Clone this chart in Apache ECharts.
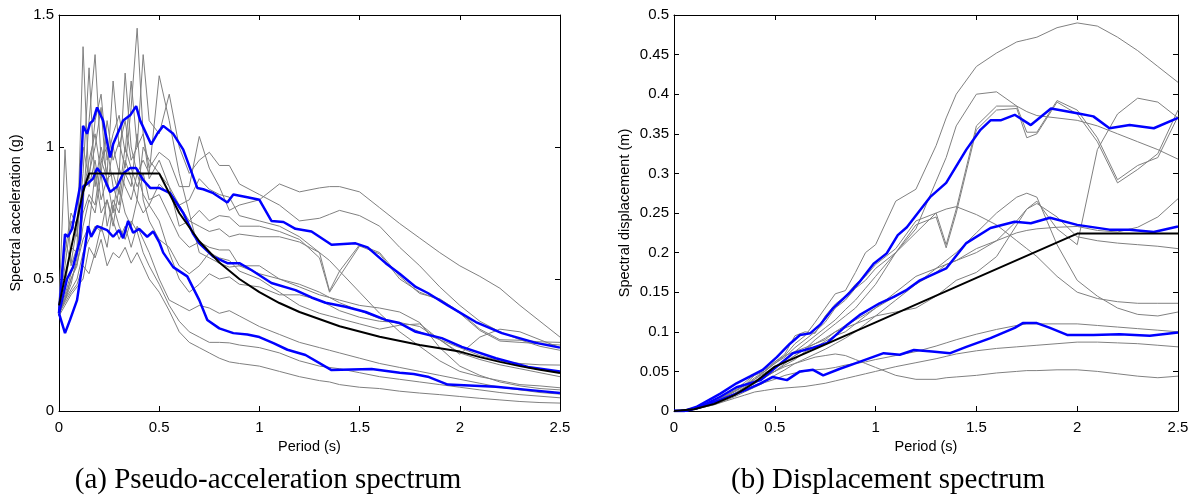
<!DOCTYPE html>
<html>
<head>
<meta charset="utf-8">
<script src="https://cdn.jsdelivr.net/npm/echarts@6/dist/echarts.min.js"></script>
<style>
html, body { margin: 0; padding: 0; background: #fff; }
#chart { width: 1198px; height: 499px; }
</style>
</head>
<body>
<div id="chart"></div>
<script>
// ---- (a) pseudo-acceleration: periods shared by the gray records
var tA = [0, .03, .06, .09, .12, .15, .18, .21, .24, .27, .30, .33, .36, .39, .42, .45, .5, .55, .6, .65, .7, .75, .8, .85, .9,
	1.0, 1.1, 1.2, 1.3, 1.35, 1.4, 1.5, 1.6, 1.7, 1.8, 1.9, 2.0, 2.1, 2.2, 2.3, 2.4, 2.5];
var saA1 = [.38, .48, .62, .60, .82, .95, 1.05, .90, 1.10, .95, 1.02, .92, 1.15, 1.45, 1.05, .92, .98, .95, .85, .85, 1.04, .92, .85, .76, .78,
	.80, .86, .83, .845, .85, .85, .83, .77, .71, .655, .60, .55, .51, .465, .40, .34, .28];
var saA2 = [.40, .99, .55, .62, 1.38, .85, .95, .80, .88, .75, .92, .85, .80, .90, .82, .78, .86, .82, .78, .80, .88, .84, .82, .81, .74,
	.72, .70, .66, .60, .455, .53, .63, .60, .51, .445, .425, .375, .31, .27, .268, .262, .26];
var saA3 = [.37, .42, .48, .58, .78, 1.10, 1.35, .95, 1.00, .85, .78, .95, .88, .80, 1.00, .95, .90, .85, .70, .72, .76, .72, .74, .735, .70,
	.70, .68, .65, .58, .45, .51, .625, .595, .50, .45, .42, .37, .305, .265, .26, .255, .25];
var saA4 = [.39, .55, .72, .66, .90, 1.30, .85, 1.00, .90, 1.25, 1.00, 1.10, .95, 1.00, 1.35, 1.10, 1.05, 1.20, 1.00, .90, .95, .98, .93, .93, .86,
	.82, .78, .72, .73, .745, .76, .74, .70, .62, .55, .47, .40, .34, .30, .27, .245, .23];
var saA5 = [.36, .43, .50, .55, .70, .80, .75, .90, .70, .80, .75, .90, .85, 1.05, .80, .72, .65, .62, .55, .52, .55, .60, .58, .57, .53,
	.50, .45, .40, .37, .36, .35, .33, .31, .325, .33, .27, .215, .28, .31, .30, .27, .24];
var saA6 = [.38, .65, .56, .70, .85, .90, 1.00, 1.15, .85, 1.00, .90, 1.28, 1.00, .90, .95, .90, 1.27, 1.10, .90, .75, .60, .58, .56, .545, .55,
	.52, .50, .48, .45, .43, .41, .38, .35, .33, .30, .27, .24, .21, .19, .18, .175, .174];
var saA7 = [.37, .42, .50, .56, .65, .70, .90, .75, .80, .70, .85, .75, .70, .80, .75, .78, .72, .60, .50, .45, .48, .52, .50, .508, .48,
	.47, .44, .44, .42, .40, .38, .355, .34, .335, .32, .27, .22, .195, .175, .16, .145, .13];
var saA8 = [.39, .60, .75, .70, 1.00, .88, 1.10, 1.20, .95, 1.05, 1.12, .98, 1.25, 1.00, 1.05, .88, .95, .85, .78, .72, .70, .68, .69, .66, .67,
	.66, .66, .64, .60, .57, .53, .45, .37, .30, .245, .19, .15, .13, .115, .10, .095, .088];
var saA9 = [.36, .44, .52, .60, .75, .82, .78, .95, .88, .90, .82, 1.00, .92, .85, .90, .80, .82, .74, .66, .62, .64, .62, .61, .61, .55,
	.55, .50, .47, .44, .43, .42, .40, .39, .375, .335, .24, .17, .135, .11, .095, .085, .08];
var saA10 = [.38, .42, .46, .50, .60, .65, .70, .68, .80, .72, .65, .70, .62, .70, .65, .60, .50, .42, .40, .38, .40, .39, .37, .38, .36,
	.32, .29, .26, .24, .23, .22, .20, .18, .165, .15, .135, .12, .105, .09, .08, .07, .064];
var saA11 = [.37, .41, .45, .48, .55, .52, .60, .70, .62, .78, .70, .65, .72, .68, .60, .55, .48, .40, .34, .30, .28, .26, .26, .258, .25,
	.24, .22, .19, .17, .165, .16, .145, .13, .12, .11, .10, .09, .08, .07, .062, .056, .05];
var saA12 = [.36, .40, .44, .47, .50, .62, .58, .65, .55, .60, .58, .62, .56, .60, .55, .50, .45, .38, .30, .26, .24, .22, .20, .186, .18,
	.17, .15, .13, .115, .11, .10, .09, .085, .075, .068, .062, .055, .048, .042, .036, .032, .03];
var saGray = [saA1, saA2, saA3, saA4, saA5, saA6, saA7, saA8, saA9, saA10, saA11, saA12];

// blue statistics and design spectrum, [period, Sa]
var saUpper = [[0, .37], [.03, .67], [.045, .66], [.065, .69], [.105, .85], [.12, 1.08], [.14, 1.05], [.155, 1.09], [.17, 1.10], [.19, 1.15],
	[.22, 1.10], [.255, .96], [.27, 1.01], [.32, 1.10], [.355, 1.12], [.385, 1.155], [.405, 1.10], [.46, 1.01], [.49, 1.05], [.52, 1.08],
	[.57, 1.05], [.62, .99], [.69, .845], [.72, .84], [.77, .825], [.84, .79], [.87, .82], [.94, .81], [1.0, .80], [1.06, .72], [1.12, .716],
	[1.18, .69], [1.26, .68], [1.36, .63], [1.48, .635], [1.54, .62], [1.63, .56], [1.70, .52], [1.78, .47], [1.84, .447], [1.94, .40],
	[2.08, .337], [2.21, .295], [2.38, .258], [2.5, .24]];
var saMean = [[0, .37], [.04, .50], [.07, .545], [.105, .65], [.12, .85], [.14, .86], [.17, .88], [.19, .92], [.22, .89], [.255, .83],
	[.29, .85], [.32, .90], [.355, .92], [.385, .92], [.42, .875], [.455, .845], [.5, .845], [.555, .825], [.62, .75], [.67, .67], [.70, .635],
	[.77, .585], [.84, .56], [.9, .56], [.96, .534], [1.06, .485], [1.18, .458], [1.26, .43], [1.33, .41], [1.43, .395], [1.53, .375],
	[1.63, .345], [1.70, .333], [1.78, .30], [1.91, .276], [2.01, .243], [2.18, .20], [2.34, .167], [2.5, .15]];
var saLower = [[0, .37], [.03, .295], [.055, .345], [.09, .42], [.115, .545], [.145, .70], [.16, .66], [.19, .70], [.24, .685], [.27, .66],
	[.30, .685], [.32, .655], [.345, .72], [.37, .675], [.40, .69], [.44, .66], [.47, .68], [.50, .64], [.52, .60], [.57, .545], [.64, .51],
	[.70, .42], [.74, .345], [.80, .313], [.87, .295], [.94, .29], [1.0, .28], [1.07, .257], [1.14, .232], [1.23, .212], [1.36, .155],
	[1.56, .159], [1.70, .145], [1.77, .14], [1.84, .13], [1.94, .10], [2.18, .092], [2.34, .08], [2.5, .068]];
var saDesign = [[0, .4], [.12, .83], [.15, .9], [.5, .9], [.6, .75], [.7, .643], [.8, .5625], [.9, .5], [1.0, .45], [1.1, .409], [1.2, .375],
	[1.4, .321], [1.6, .281], [1.8, .25], [2.0, .225], [2.1, .204], [2.2, .186], [2.3, .170], [2.4, .156], [2.5, .144]];

// ---- (b) displacement
var tB = [0, .1, .2, .3, .35, .4, .45, .5, .55, .6, .65, .7, .75, .8, .85, .9, .95, 1.0, 1.1, 1.2, 1.3, 1.35, 1.4, 1.5, 1.6, 1.7, 1.75, 1.8,
	1.9, 2.0, 2.1, 2.2, 2.3, 2.4, 2.5];
var sdB1 = [0, .002, .01, .022, .03, .04, .05, .062, .07, .085, .095, .112, .13, .148, .152, .175, .20, .21, .265, .28, .335, .37, .40, .435,
	.452, .466, .469, .472, .484, .49, .486, .472, .455, .435, .415];
var sdB2 = [0, .002, .011, .025, .033, .045, .05, .06, .068, .08, .09, .1, .112, .13, .14, .155, .165, .18, .2, .235, .245, .206, .25, .355,
	.38, .382, .345, .35, .39, .375, .34, .288, .305, .325, .38];
var sdB3 = [0, .002, .012, .026, .036, .046, .052, .062, .072, .095, .1, .098, .12, .135, .145, .16, .17, .185, .205, .24, .25, .21, .255, .36,
	.385, .385, .352, .352, .392, .38, .345, .292, .31, .32, .372];
var sdB4 = [0, .002, .01, .02, .027, .035, .042, .05, .06, .07, .078, .09, .1, .11, .12, .13, .145, .16, .2, .23, .29, .32, .36, .40, .403,
	.385, .378, .373, .37, .367, .36, .35, .34, .33, .318];
var sdB5 = [0, .002, .012, .025, .032, .042, .05, .06, .07, .075, .08, .085, .09, .1, .105, .11, .115, .12, .125, .13, .145, .155, .165, .175,
	.195, .235, .255, .265, .23, .21, .33, .375, .395, .39, .37];
var sdB6 = [0, .002, .011, .024, .032, .04, .048, .055, .062, .07, .078, .085, .092, .1, .108, .115, .122, .13, .145, .16, .175, .185, .19,
	.205, .215, .225, .228, .23, .232, .233, .228, .226, .232, .245, .268];
var sdB7 = [0, .002, .01, .02, .028, .035, .045, .05, .058, .065, .075, .08, .088, .095, .1, .11, .12, .13, .15, .17, .18, .185, .19, .2,
	.215, .24, .255, .262, .245, .22, .215, .212, .21, .208, .205];
var sdB8 = [0, .002, .01, .022, .03, .038, .045, .055, .065, .075, .085, .095, .105, .115, .128, .14, .155, .17, .2, .225, .25, .255, .258,
	.248, .235, .215, .205, .195, .17, .15, .142, .138, .136, .136, .136];
var sdB9 = [0, .002, .01, .02, .026, .032, .038, .045, .052, .06, .066, .072, .078, .085, .092, .1, .11, .12, .14, .16, .18, .19, .2, .225,
	.25, .27, .275, .27, .21, .165, .145, .13, .122, .12, .125];
var sdB10 = [0, .002, .008, .018, .024, .03, .036, .04, .045, .048, .05, .052, .053, .055, .058, .06, .062, .065, .07, .075, .082, .086, .09,
	.097, .103, .108, .11, .11, .11, .11, .108, .106, .104, .102, .10];
var sdB11 = [0, .002, .008, .016, .02, .024, .026, .028, .029, .03, .031, .033, .035, .038, .041, .044, .047, .05, .056, .061, .066, .069,
	.072, .076, .079, .081, .082, .083, .085, .087, .087, .086, .085, .083, .081];
var sdB12 = [0, .002, .009, .02, .028, .035, .043, .05, .056, .06, .064, .068, .07, .072, .07, .065, .06, .055, .045, .04, .04, .042, .043,
	.045, .048, .05, .051, .051, .052, .052, .05, .047, .044, .042, .044];
var sdGray = [sdB1, sdB2, sdB3, sdB4, sdB5, sdB6, sdB7, sdB8, sdB9, sdB10, sdB11, sdB12];

var sdUpper = [[0, 0], [.05, 0], [.11, .005], [.23, .022], [.31, .035], [.38, .044], [.44, .052], [.51, .068], [.575, .085], [.625, .096],
	[.675, .098], [.725, .109], [.79, .13], [.87, .149], [.92, .163], [.99, .186], [1.055, .199], [1.11, .222], [1.155, .232], [1.27, .27],
	[1.35, .288], [1.45, .33], [1.52, .355], [1.57, .367], [1.62, .367], [1.69, .374], [1.77, .361], [1.87, .382], [2.0, .376], [2.08, .372],
	[2.16, .357], [2.26, .361], [2.38, .357], [2.5, .37]];
var sdMean = [[0, 0], [.05, 0], [.12, .004], [.23, .018], [.31, .03], [.43, .039], [.51, .056], [.59, .073], [.69, .08], [.76, .086],
	[.86, .109], [.92, .121], [1.02, .136], [1.09, .144], [1.155, .153], [1.22, .165], [1.35, .18], [1.45, .212], [1.57, .231], [1.69, .239],
	[1.77, .237], [1.865, .244], [2.0, .235], [2.16, .229], [2.26, .229], [2.38, .226], [2.5, .233]];
var sdLower = [[0, 0], [.05, 0], [.12, .004], [.23, .014], [.36, .027], [.43, .035], [.49, .043], [.56, .039], [.625, .05], [.69, .052],
	[.74, .045], [.82, .053], [.92, .062], [1.04, .073], [1.12, .071], [1.19, .077], [1.28, .075], [1.37, .073], [1.45, .081], [1.57, .092],
	[1.69, .105], [1.73, .111], [1.80, .111], [1.865, .105], [1.95, .096], [2.08, .096], [2.21, .097], [2.36, .095], [2.5, .099]];
var sdDesign = [[0, 0], [.1, .0022], [.2, .009], [.3, .02], [.4, .036], [.5, .056], [1.0, .112], [1.5, .168], [2.0, .224], [2.5, .224]];

var periodTicks = [0, 2.5, 0.5];   // min, max, step
var saTicks = [0, 1.5, 0.5];
var sdTicks = [0, 0.5, 0.05];

// ---------------------------------------------------------------
var FONT = 'Arial, "Liberation Sans", sans-serif';
var blk = '#000';

function xAxes(g, name) {
	var base = {
		gridIndex: g, type: 'value', min: periodTicks[0], max: periodTicks[1], interval: periodTicks[2],
		axisLine: { onZero: false, lineStyle: { color: blk, width: 1 } },
		axisTick: { inside: true, length: 5, lineStyle: { color: blk } },
		splitLine: { show: false }
	};
	var bottom = Object.assign({}, base, {
		position: 'bottom', name: name, nameLocation: 'middle', nameGap: 27,
		nameTextStyle: { fontSize: 14.5, color: blk, fontFamily: FONT },
		axisLabel: { fontSize: 15, color: blk, fontFamily: FONT, margin: 9 }
	});
	var top = Object.assign({}, base, { position: 'top', axisLabel: { show: false } });
	return [bottom, top];
}

function yAxes(g, ticks, name, gap) {
	var base = {
		gridIndex: g, type: 'value', min: ticks[0], max: ticks[1], interval: ticks[2],
		axisLine: { onZero: false, lineStyle: { color: blk, width: 1 } },
		axisTick: { inside: true, length: 5, lineStyle: { color: blk } },
		splitLine: { show: false }
	};
	var left = Object.assign({}, base, {
		position: 'left', name: name, nameLocation: 'middle', nameGap: gap,
		nameTextStyle: { fontSize: 14.5, color: blk, fontFamily: FONT },
		axisLabel: { fontSize: 15, color: blk, fontFamily: FONT, margin: 5 }
	});
	var right = Object.assign({}, base, { position: 'right', axisLabel: { show: false } });
	return [left, right];
}

function zip(t, v) {
	var out = [];
	for (var i = 0; i < t.length; ++i) out.push([t[i], v[i]]);
	return out;
}

function line(data, g, color, width, z) {
	return {
		type: 'line', xAxisIndex: g * 2, yAxisIndex: g * 2, data: data,
		showSymbol: false, symbol: 'none', silent: true, z: z,
		lineStyle: { color: color, width: width }
	};
}

var series = [];
for (var i = 0; i < saGray.length; ++i) series.push(line(zip(tA, saGray[i]), 0, '#808080', 1, 2));
for (var i = 0; i < sdGray.length; ++i) series.push(line(zip(tB, sdGray[i]), 1, '#808080', 1, 2));
[saUpper, saMean, saLower].forEach(function (d) { series.push(line(d, 0, '#0000ff', 2.5, 3)); });
[sdUpper, sdMean, sdLower].forEach(function (d) { series.push(line(d, 1, '#0000ff', 2.5, 3)); });
series.push(line(saDesign, 0, blk, 2, 4));
series.push(line(sdDesign, 1, blk, 2, 4));

var chart = echarts.init(document.getElementById('chart'), null, { renderer: 'canvas' });
chart.setOption({
	animation: false,
	backgroundColor: '#fff',
	grid: [
		{ left: 59, top: 15, width: 501, height: 396 },
		{ left: 674, top: 15, width: 504, height: 396 }
	],
	xAxis: xAxes(0, 'Period (s)').concat(xAxes(1, 'Period (s)')),
	yAxis: yAxes(0, saTicks, 'Spectral acceleration (g)', 36).concat(yAxes(1, sdTicks, 'Spectral displacement (m)', 42)),
	series: series,
	graphic: [
		{ type: 'text', style: { text: '(a) Pseudo-acceleration spectrum', x: 268, y: 466, textAlign: 'center', textVerticalAlign: 'top',
			font: '29px "Times New Roman", "Liberation Serif", serif', fill: blk } },
		{ type: 'text', style: { text: '(b) Displacement spectrum', x: 888, y: 466, textAlign: 'center', textVerticalAlign: 'top',
			font: '29px "Times New Roman", "Liberation Serif", serif', fill: blk } }
	]
});
</script>
</body>
</html>
